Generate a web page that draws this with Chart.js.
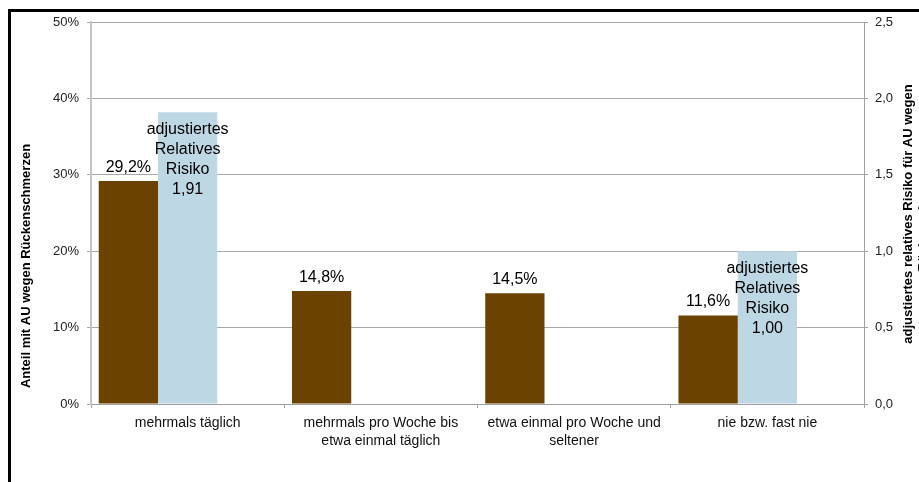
<!DOCTYPE html>
<html>
<head>
<meta charset="utf-8">
<script src="https://cdn.jsdelivr.net/npm/chart.js@4/dist/chart.umd.min.js"></script>
<style>
  html, body { margin: 0; padding: 0; background: #fff; }
  canvas { display: block; }
</style>
</head>
<body>
<canvas id="auChart" width="919" height="482"></canvas>
<script>
const categories = [
    'mehrmals täglich',
    ['mehrmals pro Woche bis', 'etwa einmal täglich'],
    ['etwa einmal pro Woche und', 'seltener'],
    'nie bzw. fast nie'
];
const anteilAU = [29.2, 14.8, 14.5, 11.6];
const relRisiko = [1.91, null, null, 1.00];
const risikoLabel = ['adjustiertes', 'Relatives', 'Risiko'];
const leftTitle = 'Anteil mit AU wegen Rückenschmerzen';
const rightTitle = ['adjustiertes relatives Risiko für AU wegen', 'Rückenschmerzen'];

const FONT = '"Liberation Sans", Arial, sans-serif';
const fmt = (v, d) => v.toFixed(d).replace('.', ',');

// labels, titles and the frame
const extras = {
    id: 'extras',
    beforeDraw(chart) {
        const c = chart.ctx;
        c.save();
        c.fillStyle = '#fff';
        c.fillRect(0, 0, chart.width, chart.height);
        c.restore();
    },
    afterDatasetsDraw(chart) {
        const c = chart.ctx;
        c.save();
        c.fillStyle = '#000';
        c.font = '16px ' + FONT;
        c.textAlign = 'center';
        chart.getDatasetMeta(0).data.forEach((bar, i) => {
            c.textBaseline = 'alphabetic';
            c.fillText(fmt(anteilAU[i], 1) + '%', bar.x, bar.y - 9);
        });
        chart.getDatasetMeta(1).data.forEach((bar, i) => {
            if (relRisiko[i] == null) return;
            c.textBaseline = 'middle';
            const lines = risikoLabel.concat([fmt(relRisiko[i], 2)]);
            lines.forEach((t, j) => c.fillText(t, bar.x, bar.y + 17 + j * 20));
        });
        c.restore();
    },
    afterDraw(chart) {
        const c = chart.ctx;
        c.save();
        c.fillStyle = '#000';
        c.font = 'bold 13px ' + FONT;
        c.textAlign = 'center';
        c.textBaseline = 'middle';
        c.translate(26, 266);
        c.rotate(-Math.PI / 2);
        c.fillText(leftTitle, 0, 0);
        c.restore();

        c.save();
        c.fillStyle = '#000';
        c.font = 'bold 13px ' + FONT;
        c.textAlign = 'center';
        c.textBaseline = 'middle';
        c.translate(908, 214);
        c.rotate(-Math.PI / 2);
        c.fillText(rightTitle[0], 0, 0);
        c.fillText(rightTitle[1], 0, 15);
        c.restore();

        // frame (right and bottom edges are cut off)
        c.save();
        c.strokeStyle = '#000';
        c.lineWidth = 3;
        c.beginPath();
        c.moveTo(9.5, chart.height + 2);
        c.lineTo(9.5, 10.5);
        c.lineTo(chart.width + 2, 10.5);
        c.stroke();
        c.restore();
    }
};

const ctx = document.getElementById('auChart').getContext('2d');
const auChart = new Chart(ctx, {
    type: 'bar',
    data: {
        labels: categories,
        datasets: [
        {
            label: 'Anteil mit AU',
            data: anteilAU,
            backgroundColor: '#6b4200',
            yAxisID: 'y'
        },
        {
            label: 'adjustiertes Relatives Risiko',
            data: relRisiko,
            backgroundColor: '#bed7e4',
            yAxisID: 'y2'
        },
        {
            // empty slot, keeps the bars left in each category
            label: '',
            data: [null, null, null, null],
            yAxisID: 'y'
        }]
    },
    options: {
        responsive: false,
        devicePixelRatio: 1,
        animation: false,
        categoryPercentage: 0.92,
        barPercentage: 1.0,
        layout: {
            padding: { left: 0, right: 0, top: 22, bottom: 0 }
        },
        scales: {
            x: {
                grid: {
                    drawOnChartArea: false,
                    offset: true,
                    tickLength: 4,
                    color: '#a0a0a0'
                },
                border: { color: '#a0a0a0' },
                ticks: {
                    font: { size: 14, family: FONT, lineHeight: '18px' },
                    color: '#111',
                    padding: 6,
                    maxRotation: 0,
                    autoSkip: false
                },
                afterFit(s) { s.height = 78; }
            },
            y: {
                position: 'left',
                min: 0,
                max: 50,
                grid: {
                    color: '#a8a8a8',
                    tickLength: 4
                },
                border: { color: '#c4c4c4', width: 2 },
                ticks: {
                    stepSize: 10,
                    callback: (v) => v + '%',
                    font: { size: 13, family: FONT },
                    color: '#222',
                    padding: 8
                },
                afterFit(s) { s.width = 91; }
            },
            y2: {
                position: 'right',
                min: 0,
                max: 2.5,
                grid: {
                    drawOnChartArea: false,
                    tickLength: 4,
                    color: '#a0a0a0'
                },
                border: { color: '#a0a0a0' },
                ticks: {
                    stepSize: 0.5,
                    callback: (v) => fmt(v, 1),
                    font: { size: 13, family: FONT },
                    color: '#222',
                    padding: 7
                },
                afterFit(s) { s.width = 55; }
            }
        },
        plugins: {
            legend: { display: false },
            tooltip: { enabled: false }
        }
    },
    plugins: [extras]
});
</script>
</body>
</html>
